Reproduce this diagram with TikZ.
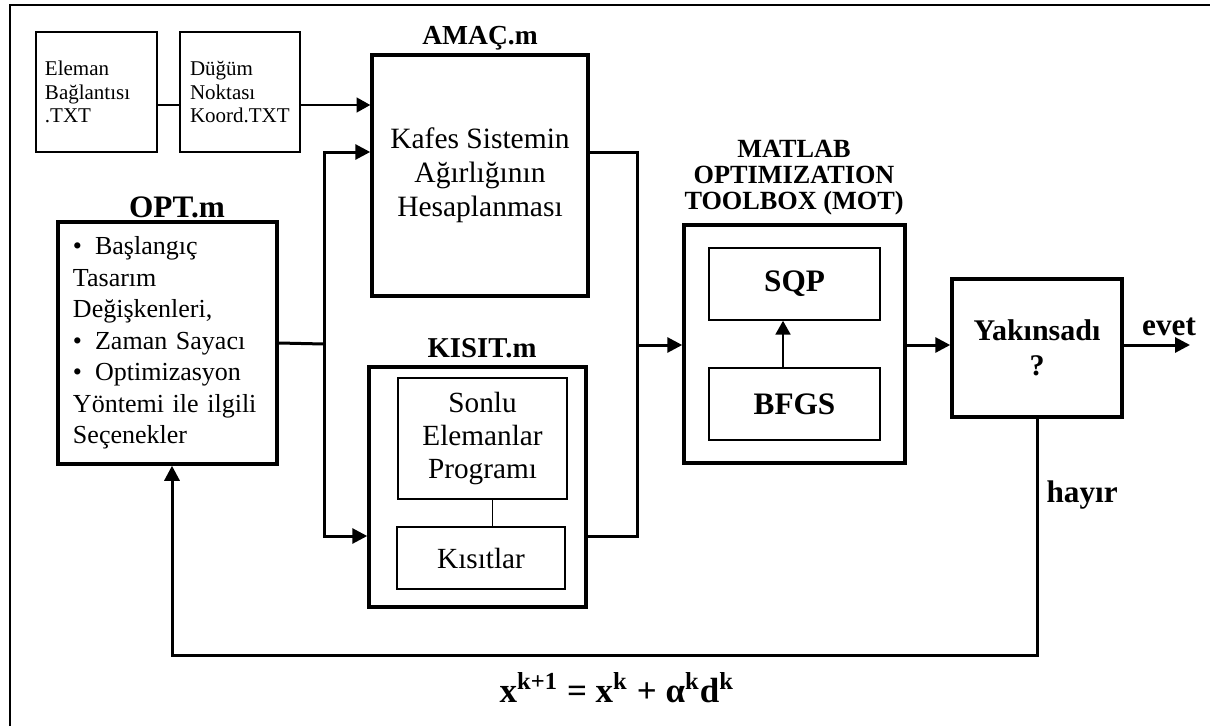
\documentclass[tikz,border=0pt]{standalone}
\usepackage{fontspec}
\setmainfont{Liberation Serif}
\usetikzlibrary{arrows.meta,positioning,calc}

\tikzset{
  bigbox/.style={draw, line width=1.4pt, inner sep=0pt, align=center},
  smallbox/.style={draw, line width=0.65pt, inner sep=0pt, align=center},
  lbl/.style={font=\bfseries\fontsize{#1}{#1}\selectfont, inner sep=0pt},
  conn/.style={line width=1.2pt, line join=miter},
  arr/.style={conn, -{Triangle[length=6pt, width=6pt]}},
  thinarr/.style={line width=0.7pt, -{Triangle[length=5.5pt, width=6pt]}}
}

\begin{document}
\begin{tikzpicture}[x=0.4pt, y=-0.4pt]
	\useasboundingbox (0,0) rectangle (1210,726);
	\draw[line width=1pt] (10,726) -- (10,5) -- (1210,5);
	% text files
	\node[smallbox, align=left, inner xsep=3.6pt, text width=41.2pt, minimum height=48pt, font=\fontsize{8.4}{9.4}\selectfont] (eleman) at (96.5,92) {Eleman\\Bağlantısı\\.TXT};
	\node[smallbox, align=left, inner xsep=4pt, text width=40pt, minimum height=48pt, font=\fontsize{8.4}{9.4}\selectfont] (dugum) at (240,92) {Düğüm\\Noktası\\Koord.TXT};
	% main blocks
	\node[bigbox, minimum width=86.4pt, minimum height=96.4pt, font=\fontsize{11.8}{13.6}\selectfont] (amac) at (480,175.5) {Kafes Sistemin\\Ağırlığının\\Hesaplanması};
	\node[bigbox, align=left, inner xsep=6pt, text width=75.6pt, minimum height=96.8pt, font=\fontsize{10.4}{12.6}\selectfont] (opt) at (167.5,343) {•\enspace Başlangıç\\Tasarım\\Değişkenleri,\\•\enspace Zaman Sayacı\\•\enspace Optimizasyon\\Yöntemi ile ilgili\\Seçenekler};
	\node[bigbox, minimum width=86.8pt, minimum height=96pt] (kisit) at (477.5,487) {};
	\node[smallbox, minimum width=67.6pt, minimum height=48.4pt, font=\fontsize{11.7}{13.3}\selectfont] (sonlu) at (482.5,438.5) {Sonlu\\Elemanlar\\Programı};
	\node[smallbox, minimum width=67.2pt, minimum height=24.8pt, font=\fontsize{11.7}{13.3}\selectfont] (kis) at (481,558) {Kısıtlar};
	\node[bigbox, minimum width=88.4pt, minimum height=95.2pt] (mot) at (794.5,344) {};
	\node[smallbox, minimum width=68.4pt, minimum height=28.8pt, font=\bfseries\fontsize{12.5}{13}\selectfont] (sqp) at (794.5,284) {SQP};
	\node[smallbox, minimum width=68.4pt, minimum height=28.8pt, font=\bfseries\fontsize{12.5}{13}\selectfont] (bfgs) at (794.5,404) {BFGS};
	\node[bigbox, minimum width=68pt, minimum height=55.2pt, font=\bfseries\fontsize{12}{14}\selectfont] (yak) at (1037,348) {Yakınsadı\\?};
	% titles
	\node[lbl=11] (amactitle) at (480,38) {AMAÇ.m};
	\node[lbl=12.5] (opttitle) at (177,207) {OPT.m};
	\node[lbl=11.5] (kisittitle) at (482,348) {KISIT.m};
	\node[lbl=10.5, align=center, font=\bfseries\fontsize{10.5}{10.4}\selectfont] (mottitle) at (794,178) {MATLAB\\OPTIMIZATION\\TOOLBOX (MOT)};
	% connectors
	\coordinate (txtout) at ([yshift=-5.2pt]dugum.east);
	\draw[line width=0.7pt] ([yshift=-5.2pt]eleman.east) -- ([yshift=-5.2pt]dugum.west);
	\draw[thinarr] (txtout) -- (txtout -| amac.west);
	\coordinate (bus) at (324,344);
	\coordinate (amacin) at (amac.west |- 0,152);
	\coordinate (kisitin) at (kisit.west |- 0,536);
	\draw[conn] (opt.east) -- (bus);
	\draw[arr] (bus) -- (bus |- amacin) -- (amacin);
	\draw[arr] (bus) -- (bus |- kisitin) -- (kisitin);
	\coordinate (join) at (637,345);
	\draw[conn] (amac.east |- amacin) -- (join |- amacin) -- (join |- kisitin) -- (kisit.east |- kisitin);
	\draw[arr] (join) -- (join -| mot.west);
	\draw[line width=0.6pt] ([xshift=4pt]sonlu.south) -- ([xshift=4pt]sonlu.south |- kis.north);
	\draw[thinarr] ([xshift=-4.6pt]bfgs.north) -- ([xshift=-4.6pt]sqp.south);
	\draw[arr] (join -| mot.east) -- (join -| yak.west);
	\coordinate (evetend) at (1190,345);
	\draw[arr] (join -| yak.east) -- (evetend);
	\node[lbl=12.5] (evet) at (1169,327) {evet};
	\coordinate (fb) at (0,655);
	\draw[arr] (yak.south) -- (yak.south |- fb) -| ([xshift=1.8pt]opt.south);
	\node[lbl=12.5, anchor=west] (hayir) at (1046,495) {hayır};
	\node[font=\bfseries\fontsize{14}{16}\selectfont] (update) at (617,688) {x\textsuperscript{k+1} = x\textsuperscript{k} + α\textsuperscript{k}d\textsuperscript{k}};
\end{tikzpicture}
\end{document}
